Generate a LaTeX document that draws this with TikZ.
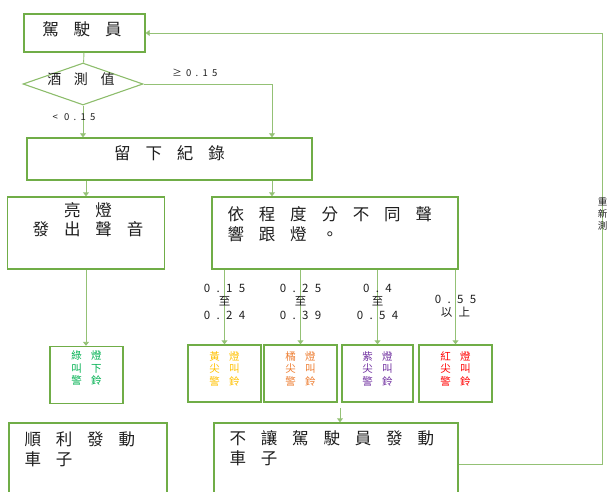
\documentclass[tikz,border=0pt]{standalone}
\usepackage{fontspec}
\setmainfont[LetterSpace=90]{Noto Sans CJK TC}
\newfontfamily\digitfont[LetterSpace=55]{Noto Sans CJK TC}
\newfontfamily\condfont[LetterSpace=45]{Noto Sans CJK TC}
\usetikzlibrary{shapes.geometric, arrows.meta, positioning, calc}
\definecolor{flowgreen}{RGB}{112,173,71}
\definecolor{okgreen}{RGB}{0,176,80}
\definecolor{warnyellow}{RGB}{255,192,0}
\definecolor{warnorange}{RGB}{237,125,49}
\definecolor{warnpurple}{RGB}{112,48,160}
\definecolor{warnred}{RGB}{255,0,0}
\definecolor{inkgray}{RGB}{30,30,30}
\tikzset{
  stepbox/.style={
    rectangle, draw=flowgreen, line width=1.4pt,
    inner sep=0pt
  },
  lamp/.style={
    rectangle, draw=flowgreen, line width=1.4pt,
    minimum width=73pt, minimum height=57pt,
    inner sep=0pt
  },
  decision/.style={
    diamond, draw=flowgreen!80, line width=1.1pt,
    minimum width=120pt, minimum height=42pt,
    inner sep=0pt
  },
  boxtop/.style={
    anchor=north, inner sep=0pt, align=center,
    font=\fontsize{16.5}{19.5}\selectfont, text=inkgray
  },
  boxleft/.style={
    anchor=north west, inner sep=0pt, align=left,
    font=\fontsize{16.5}{20}\selectfont, text=inkgray
  },
  lamptext/.style={
    anchor=north, inner sep=0pt, align=center,
    font=\fontsize{10.5}{12.5}\selectfont, text=#1
  },
  rangelabel/.style={
    inner sep=0pt, align=center,
    font=\digitfont\fontsize{11.5}{13.5}\selectfont, text=inkgray
  },
  cond/.style={
    inner sep=0pt,
    font=\condfont\fontsize{9.5}{11}\selectfont, text=inkgray
  },
  link/.style={line width=0.9pt, draw=flowgreen!75},
  flow/.style={link, -{Triangle[width=6pt,length=4pt]}}
}

\begin{document}
\begin{tikzpicture}[x=1pt, y=-1pt]
\useasboundingbox (0,0) rectangle (610,492);
\clip (0,0) rectangle (610,492);

% ═══════════════════════════════════════════════════════════════════
% TEST AND RECORD
% ═══════════════════════════════════════════════════════════════════

\node[stepbox, minimum width=121pt, minimum height=38pt,
      label={[boxtop, xshift=-2.5pt, yshift=-8pt]north:駕駛員}]
  (driver) at (84.5,33) {};

\node[decision,
      label={[cond, font=\fontsize{14}{16}\selectfont, xshift=-2pt, yshift=5pt]center:酒測值}]
  (test) at (83,84) {};

\node[stepbox, minimum width=285pt, minimum height=42pt,
      label={[boxtop, yshift=-8pt]north:留下紀錄}]
  (log) at (169.5,159) {};

% ═══════════════════════════════════════════════════════════════════
% WARNINGS
% ═══════════════════════════════════════════════════════════════════

\node[stepbox, minimum width=157pt, minimum height=72pt,
      label={[boxtop, xshift=2pt, yshift=-6pt]north:亮燈\\發出聲音}]
  (alert) at (86,233) {};

\node[stepbox, minimum width=246pt, minimum height=72pt,
      label={[boxleft, xshift=16pt, yshift=-10pt]north west:依程度分不同聲\\響跟燈。}]
  (grade) at (335,233) {};

% ── lamps ────────────────────────────────────────────────────────
\node[lamp, label={[lamptext=okgreen, yshift=-5pt]north:綠燈\\叫下\\警鈴}]
  (green) at (86.5,375) {};

\node[lamp, label={[lamptext=warnyellow, yshift=-7pt]north:黃燈\\尖叫\\警鈴}]
  (yellow) at (224.5,373.5) {};

\node[lamp, label={[lamptext=warnorange, yshift=-7pt]north:橘燈\\尖叫\\警鈴}]
  (orange) at (300.5,373.5) {};

\node[lamp, minimum width=71pt,
      label={[lamptext=warnpurple, yshift=-7pt]north:紫燈\\尖叫\\警鈴}]
  (purple) at (377.5,373.5) {};

\node[lamp, label={[lamptext=warnred, yshift=-7pt]north:紅燈\\尖叫\\警鈴}]
  (red) at (455.5,373.5) {};

% ═══════════════════════════════════════════════════════════════════
% OUTCOMES
% ═══════════════════════════════════════════════════════════════════

\node[stepbox, minimum width=158pt, minimum height=100pt,
      label={[boxleft, xshift=16pt, yshift=-9pt]north west:順利發動\\車子}]
  (go) at (88,473) {};

\node[stepbox, minimum width=244pt, minimum height=100pt,
      label={[boxleft, xshift=16pt, yshift=-8pt]north west:不讓駕駛員發動\\車子}]
  (stop) at (336,473) {};

\coordinate (gap) at (340,408);

% ═══════════════════════════════════════════════════════════════════
% SEQUENCE FLOWS
% ═══════════════════════════════════════════════════════════════════

\draw[link] (driver) -- (test);

\draw[flow] (test.south) -- (test.south |- log.north)
  node[cond, pos=0.36, xshift=-9pt] {< 0.15};

\draw[flow] (test.east) -| ([xshift=102.5pt]log.north)
  node[cond, pos=0.2, yshift=11pt] {≥0.15};

\draw[flow] (alert.north |- log.south) -- (alert.north);
\draw[flow] ([xshift=102.5pt]log.south) -- ([xshift=102.5pt]log.south |- grade.north);

\draw[flow] (alert.south) -- (alert.south |- green.north);

% Levels
\draw[flow] (grade.south -| yellow.north) -- (yellow.north)
  node[rangelabel, pos=0.43] {0.15\\至\\0.24};
\draw[flow] (grade.south -| orange.north) -- (orange.north)
  node[rangelabel, pos=0.43] {0.25\\至\\0.39};
\draw[flow] (grade.south -| purple.north) -- (purple.north)
  node[rangelabel, pos=0.43] {0.4\\至\\0.54};
\draw[flow] (grade.south -| red.north) -- (red.north)
  node[rangelabel, pos=0.49] {0.55\\以上};

\draw[flow] (gap) -- (gap |- stop.north);

% Back to the driver
\draw[flow] ([yshift=9pt]stop.east) -- ++(144,0)
  |- (driver.east)
  node[cond, pos=0.29, align=center, font=\fontsize{9.5}{12}\selectfont] {重\\新\\測};

\end{tikzpicture}
\end{document}
